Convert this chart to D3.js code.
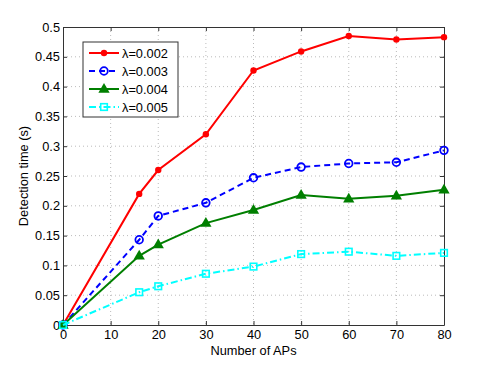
<!DOCTYPE html>
<html>
<head>
<meta charset="utf-8">
<script src="https://cdn.jsdelivr.net/npm/d3@7"></script>
<style>
  body { margin: 0; background: #fff; }
  text { font-family: "Liberation Sans", Arial, sans-serif; }
</style>
</head>
<body>
<div id="graf"></div>
<script>
// Data
const aps = [0, 16, 20, 30, 40, 50, 60, 70, 80]
const lam002 = [0, 0.22, 0.26, 0.32, 0.427, 0.459, 0.485, 0.479, 0.483]
const lam003 = [0, 0.143, 0.183, 0.205, 0.247, 0.265, 0.271, 0.273, 0.293]
const lam004 = [0, 0.116, 0.135, 0.171, 0.193, 0.218, 0.212, 0.217, 0.227]
const lam005 = [0, 0.055, 0.065, 0.086, 0.098, 0.119, 0.123, 0.116, 0.121]
const names = ["λ=0.002", "λ=0.003", "λ=0.004", "λ=0.005"]
const xTicks = [0, 10, 20, 30, 40, 50, 60, 70, 80]
const yTicks = [0, 0.05, 0.1, 0.15, 0.2, 0.25, 0.3, 0.35, 0.4, 0.45, 0.5]

const series = [
  { name: names[0], values: lam002, color: "#ff0000", dash: null, marker: "dot" },
  { name: names[1], values: lam003, color: "#0000ff", dash: "6,4", marker: "ocircle" },
  { name: names[2], values: lam004, color: "#007f00", dash: null, marker: "tri" },
  { name: names[3], values: lam005, color: "#00ffff", dash: "7,3,1.5,3", marker: "square" },
]

const anchoTotal = 491
const altoTotal = 367
const margins = { left: 63, top: 27, right: 47, bottom: 42 }
const ancho = anchoTotal - margins.left - margins.right
const alto = altoTotal - margins.top - margins.bottom
const fs = 12.8

const svg = d3.select("#graf")
  .append("svg")
  .attr("width", anchoTotal)
  .attr("height", altoTotal)

const g = svg.append("g")
  .attr("transform", `translate(${margins.left}, ${margins.top})`)

// Escaladores
const x = d3.scaleLinear().domain([0, 80]).range([0, ancho])
const y = d3.scaleLinear().domain([0, 0.5]).range([alto, 0])

// grid
g.append("g").selectAll("line").data(xTicks.slice(1, -1)).join("line")
  .attr("x1", d => x(d)).attr("x2", d => x(d))
  .attr("y1", 0).attr("y2", alto)
  .attr("stroke", "#aaa").attr("stroke-width", 0.8).attr("stroke-dasharray", "1,3")
g.append("g").selectAll("line").data(yTicks.slice(1, -1)).join("line")
  .attr("y1", d => y(d)).attr("y2", d => y(d))
  .attr("x1", 0).attr("x2", ancho)
  .attr("stroke", "#aaa").attr("stroke-width", 0.8).attr("stroke-dasharray", "1,3")

// axes
const fmtY = d => d3.format("")(+d.toFixed(2))
const axB = g.append("g").attr("transform", `translate(0,${alto})`)
  .call(d3.axisBottom(x).tickValues(xTicks).tickSizeInner(-4).tickSizeOuter(0).tickPadding(5))
const axL = g.append("g")
  .call(d3.axisLeft(y).tickValues(yTicks).tickFormat(fmtY).tickSizeInner(-4).tickSizeOuter(0).tickPadding(3))
const axT = g.append("g")
  .call(d3.axisTop(x).tickValues(xTicks).tickFormat("").tickSizeInner(-4).tickSizeOuter(0))
const axR = g.append("g").attr("transform", `translate(${ancho},0)`)
  .call(d3.axisRight(y).tickValues(yTicks).tickFormat("").tickSizeInner(-4).tickSizeOuter(0))
;[axB, axL, axT, axR].forEach(a => {
  a.selectAll("path").attr("stroke", "#333")
  a.selectAll("line").attr("stroke", "#333")
  a.selectAll("text").attr("font-size", fs).attr("fill", "#000")
    .style("font-family", '"Liberation Sans", Arial, sans-serif')
})

// lines
const line = d3.line().x((d, i) => x(aps[i])).y(d => y(d))

function drawMarker(sel, s, cx, cy) {
  if (s.marker === "dot") {
    sel.append("circle").attr("cx", cx).attr("cy", cy).attr("r", 3.2).attr("fill", s.color)
  } else if (s.marker === "ocircle") {
    sel.append("circle").attr("cx", cx).attr("cy", cy).attr("r", 3.8)
      .attr("fill", "none").attr("stroke", s.color).attr("stroke-width", 1.8)
  } else if (s.marker === "tri") {
    sel.append("path").attr("d", d3.symbol(d3.symbolTriangle, 55)())
      .attr("transform", `translate(${cx},${cy + 0.5})`).attr("fill", s.color)
  } else {
    sel.append("rect").attr("x", cx - 3.3).attr("y", cy - 3.3).attr("width", 6.6).attr("height", 6.6)
      .attr("fill", "none").attr("stroke", s.color).attr("stroke-width", 1.6)
  }
}

series.forEach(s => {
  g.append("path").datum(s.values).attr("d", line)
    .attr("fill", "none").attr("stroke", s.color).attr("stroke-width", 2)
    .attr("stroke-dasharray", s.dash)
  const mg = g.append("g")
  s.values.forEach((v, i) => drawMarker(mg, s, x(aps[i]), y(v)))
})

// legend
const lg = svg.append("g").attr("transform", "translate(83,42)")
lg.append("rect").attr("width", 95).attr("height", 75)
  .attr("fill", "#fff").attr("stroke", "#333").attr("stroke-width", 1)
series.forEach((s, i) => {
  const yy = 11 + i * 18
  lg.append("line").attr("x1", 6).attr("x2", 36).attr("y1", yy).attr("y2", yy)
    .attr("stroke", s.color).attr("stroke-width", 2).attr("stroke-dasharray", s.dash)
  drawMarker(lg, s, 21, yy)
  lg.append("text").attr("x", 39).attr("y", yy + 4.5).attr("font-size", fs).text(s.name)
})

// labels
svg.append("text").attr("x", margins.left + ancho / 2).attr("y", 355)
  .attr("text-anchor", "middle").attr("font-size", fs).text("Number of APs")
svg.append("text").attr("transform", `translate(28,${margins.top + alto / 2}) rotate(-90)`)
  .attr("text-anchor", "middle").attr("font-size", fs).text("Detection time (s)")
</script>
</body>
</html>
